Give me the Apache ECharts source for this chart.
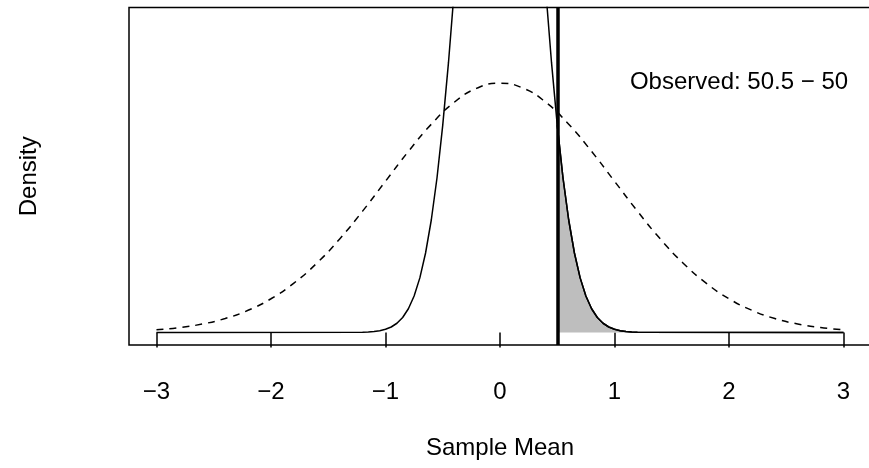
<!DOCTYPE html>
<html>
<head>
<meta charset="utf-8">
<title>Sample Mean</title>
<script src="https://cdn.jsdelivr.net/npm/echarts@6/dist/echarts.min.js"></script>
<style>
  html, body { margin: 0; padding: 0; background: #fff; }
  #chart { width: 869px; height: 468px; }
</style>
</head>
<body>
<div id="chart"></div>
<script>
// x tick labels
var tickValues = [-3, -2, -1, 0, 1, 2, 3];

// dashed curve (wide), read every 0.2
var wideX = [-3, -2.8, -2.6, -2.4, -2.2, -2, -1.8, -1.6, -1.4, -1.2, -1, -0.8, -0.6, -0.4, -0.2, 0,
             0.2, 0.4, 0.6, 0.8, 1, 1.2, 1.4, 1.6, 1.8, 2, 2.2, 2.4, 2.6, 2.8, 3];
var wideY = [0.0044, 0.0079, 0.0136, 0.0224, 0.0355, 0.0540, 0.0790, 0.1109, 0.1497, 0.1942, 0.2420,
             0.2897, 0.3332, 0.3683, 0.3910, 0.3989, 0.3910, 0.3683, 0.3332, 0.2897, 0.2420,
             0.1942, 0.1497, 0.1109, 0.0790, 0.0540, 0.0355, 0.0224, 0.0136, 0.0079, 0.0044];

// solid curve (narrow), goes off the top of the plot
var narrowX = [-3, -1.2, -1.15, -1.1, -1.05, -1, -0.95, -0.9, -0.85, -0.8, -0.75, -0.7, -0.65, -0.6,
               -0.55, -0.5, -0.45, -0.4, -0.35, -0.3, -0.25, -0.2, -0.15, -0.1, -0.05, 0,
               0.05, 0.1, 0.15, 0.2, 0.25, 0.3, 0.35, 0.4, 0.45, 0.5, 0.55, 0.6, 0.65, 0.7,
               0.75, 0.8, 0.85, 0.9, 0.95, 1, 1.05, 1.1, 1.15, 1.2, 3];
var narrowY = [0, 0.0004, 0.0009, 0.0016, 0.0029, 0.0051, 0.0088, 0.0148, 0.0240, 0.0380, 0.0584,
               0.0874, 0.1272, 0.1800, 0.2476, 0.3317, 0.4317, 0.5467, 0.6733, 0.8066, 0.9397,
               1.0648, 1.1735, 1.2579, 1.3114, 1.3298,
               1.3114, 1.2579, 1.1735, 1.0648, 0.9397, 0.8066, 0.6733, 0.5467, 0.4317, 0.3317,
               0.2476, 0.1800, 0.1272, 0.0874, 0.0584, 0.0380, 0.0240, 0.0148, 0.0088, 0.0051,
               0.0029, 0.0016, 0.0009, 0.0004, 0];

var observedMean = 0.5;
var observedText = 'Observed: 50.5 \u2212 50';

var font = "'Liberation Sans', Arial, Helvetica, sans-serif";

function pairs(xs, ys) {
  var out = [];
  for (var i = 0; i < xs.length; i++) out.push([xs[i], ys[i]]);
  return out;
}

var narrowData = pairs(narrowX, narrowY);
// shaded tail: narrow curve from the observed value on
var tailData = narrowData.filter(function (p) { return p[0] >= observedMean; });

var chart = echarts.init(document.getElementById('chart'));
chart.setOption({
  animation: false,
  backgroundColor: '#fff',
  textStyle: { fontFamily: font },
  // box runs off the right edge like the original, so don't let it get squeezed in
  grid: {
    left: 129, top: 7.5, width: 742, height: 337.5,
    outerBoundsMode: 'none',
    show: true, borderColor: '#000', borderWidth: 1.5, backgroundColor: 'transparent'
  },
  xAxis: {
    type: 'value', min: -3.24, max: 3.24,
    name: 'Sample Mean', nameLocation: 'middle', nameGap: 91,
    nameTextStyle: { fontSize: 24, color: '#000', fontFamily: font },
    axisLine: { show: false },
    splitLine: { show: false },
    axisTick: {
      show: true, inside: false, length: 15, customValues: tickValues,
      lineStyle: { color: '#000', width: 1.5 }
    },
    axisLabel: {
      customValues: tickValues, margin: 35, fontSize: 24, color: '#000', fontFamily: font,
      formatter: function (v) { return String(v).replace('-', '\u2212'); }
    }
  },
  yAxis: {
    type: 'value', min: -0.02, max: 0.52,
    name: 'Density', nameLocation: 'middle', nameGap: 88,
    nameTextStyle: { fontSize: 24, color: '#000', fontFamily: font },
    axisLine: { show: false }, axisTick: { show: false },
    axisLabel: { show: false }, splitLine: { show: false }
  },
  graphic: [{
    type: 'text', x: 739, y: 82,
    style: {
      text: observedText, fontSize: 24, fontFamily: font, fill: '#000',
      textAlign: 'center', textVerticalAlign: 'middle'
    }
  }],
  series: [
    {
      type: 'line', data: tailData, symbol: 'none', z: 1,
      lineStyle: { color: '#000', width: 1.5 },
      areaStyle: { color: '#BEBEBE', opacity: 1 }
    },
    {
      type: 'line', data: pairs(wideX, wideY), symbol: 'none', smooth: true, z: 2,
      lineStyle: { color: '#000', width: 1.5, type: [7, 6] }
    },
    {
      type: 'line', data: narrowData, symbol: 'none', z: 3, clip: true,
      lineStyle: { color: '#000', width: 1.5 },
      markLine: {
        silent: true, symbol: ['none', 'none'], label: { show: false },
        lineStyle: { color: '#000', width: 3.5, type: 'solid' },
        data: [{ xAxis: observedMean }]
      }
    }
  ]
});
</script>
</body>
</html>
